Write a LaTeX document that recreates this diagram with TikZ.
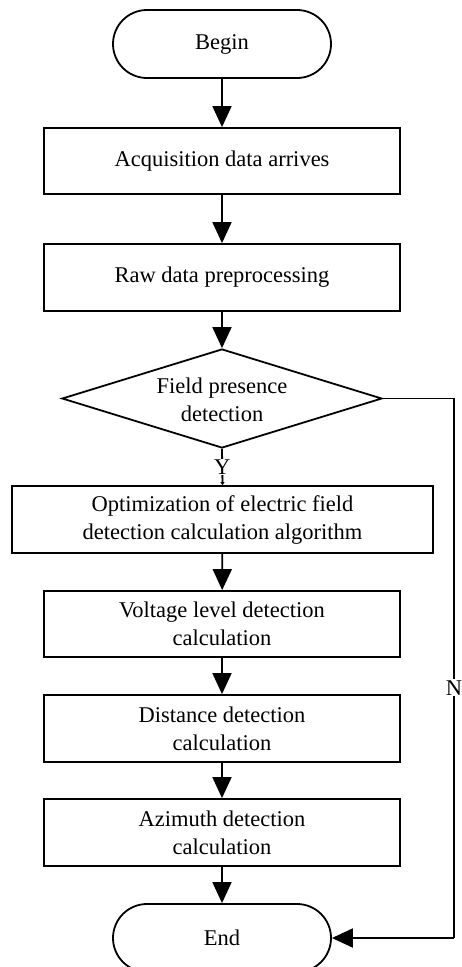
\documentclass[tikz,border=0pt]{standalone}
\usepackage{fontspec}
\setmainfont{Liberation Serif}
\usetikzlibrary{shapes.geometric,shapes.misc,arrows.meta}
\begin{document}
\begin{tikzpicture}[x=1pt,y=-1pt,
  every node/.style={font=\fontsize{22.5}{28}\selectfont},
  term/.style={draw,line width=1.8pt,rounded rectangle,minimum width=218pt,minimum height=68pt,inner sep=0pt},
  procbox/.style={draw,line width=1.8pt,rectangle,minimum width=356pt,minimum height=66pt,inner sep=0pt,align=center},
  decbox/.style={draw,line width=1.8pt,diamond,minimum width=320pt,minimum height=99pt,inner sep=0pt},
  flow/.style={line width=1.8pt,-{Triangle[length=21pt,width=19pt]}},
  lbl/.style={fill=white,inner sep=1pt}]
\clip (0,0) rectangle (461,967);
\fill[white] (0,0) rectangle (461,967);
\node[term] (begin) at (222,44) {Begin};
\node[procbox] (b1) at (222,161) {Acquisition data arrives};
\node[procbox,minimum height=67pt] (b2) at (222,277.5) {Raw data preprocessing};
\node[decbox] (dec) at (222,398.5) {};
\node[align=center] (dectext) at (222,400) {Field presence\\detection};
\node[procbox,minimum width=421pt,minimum height=67pt] (b3) at (222.5,519.5) {Optimization of electric field\\detection calculation algorithm};
\node[procbox] (b4) at (222,624) {Voltage level detection\\calculation};
\node[procbox,minimum height=67pt] (b5) at (222,728.5) {Distance detection\\calculation};
\node[procbox,minimum height=67pt] (b6) at (222,832.5) {Azimuth detection\\calculation};
\node[term] (end) at (222,938) {End};
\coordinate (nr) at (454,398.5);
\coordinate (nb) at (454,938);
\draw[flow] (begin) -- (b1);
\draw[flow] (b1) -- (b2);
\draw[flow] (b2) -- (dec);
\draw[line width=1.8pt,-{Triangle[length=3pt,width=4pt]}] (dec.south) -- node[lbl] {Y} (b3.north);
\draw[flow] (b3) -- (b4);
\draw[flow] (b4) -- (b5);
\draw[flow] (b5) -- (b6);
\draw[flow] (b6) -- (end);
\draw[line width=1.8pt] (dec.east) -- (nr) -- node[lbl,pos=0.536] {N} (nb);
\draw[flow] (nb) -- (end.east);
\end{tikzpicture}
\end{document}
